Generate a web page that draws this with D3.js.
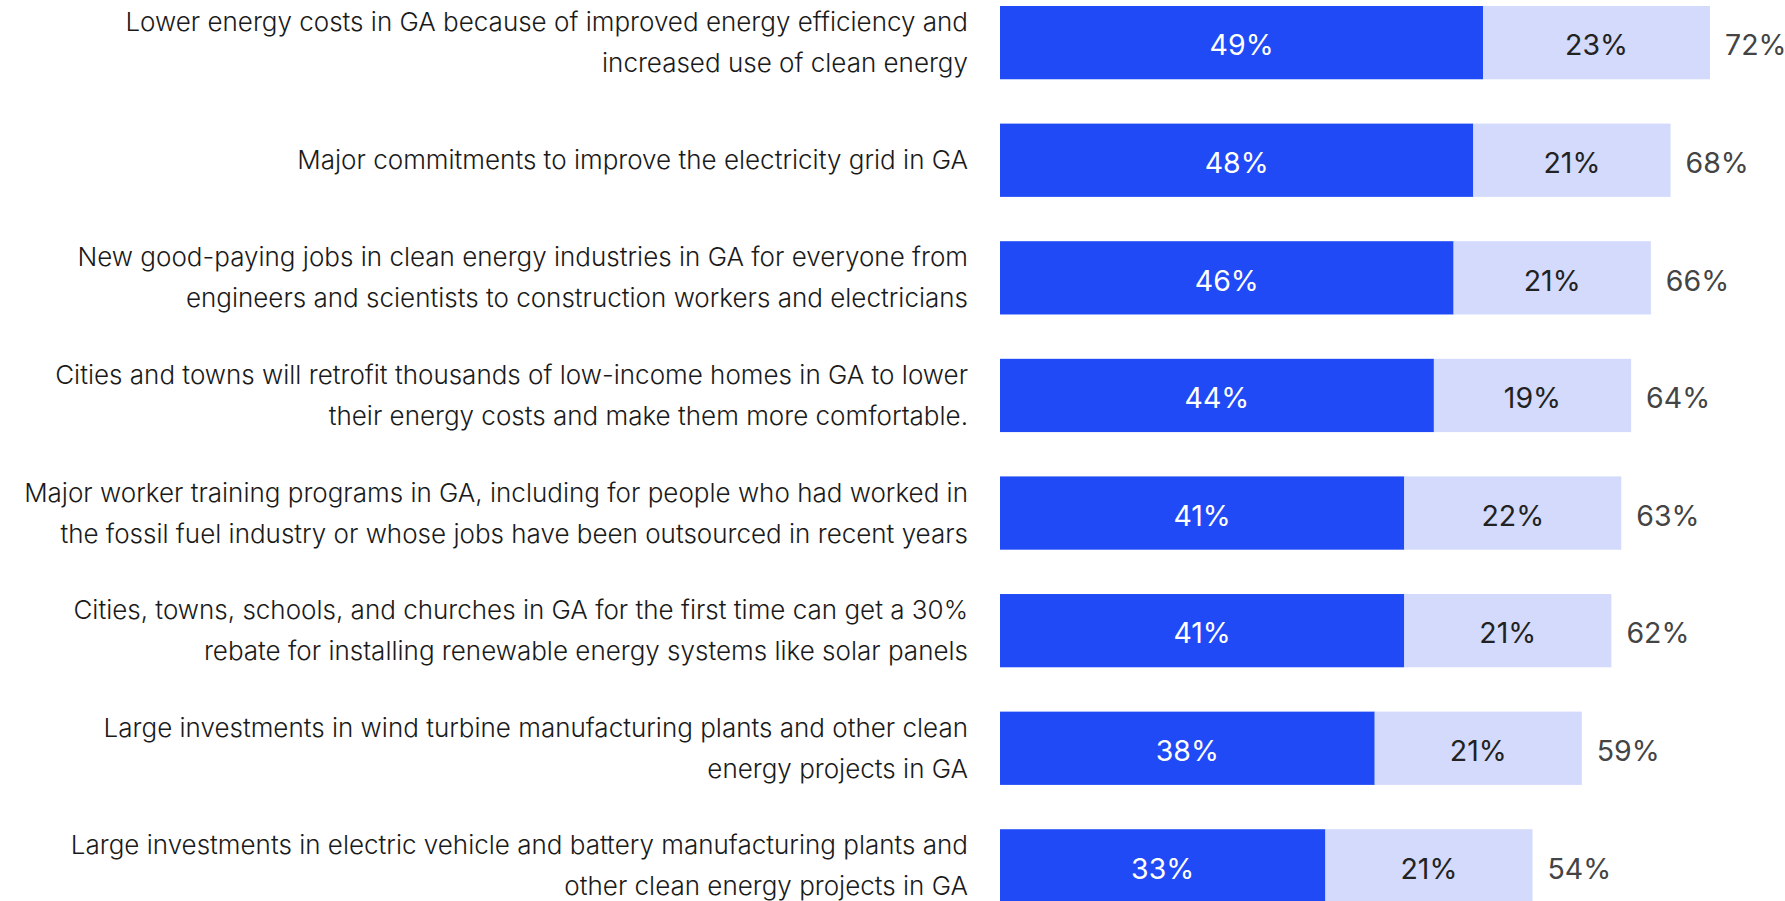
<!DOCTYPE html>
<html>
<head>
<meta charset="utf-8">
<script src="https://cdn.jsdelivr.net/npm/d3@7"></script>
<style>
  html, body { margin: 0; padding: 0; background: #fff; }
  svg { display: block; }
</style>
</head>
<body>
<svg id="chart"></svg>
<script>
const categories = [
  ["Lower energy costs in GA because of improved energy efficiency and", "increased use of clean energy"],
  ["Major commitments to improve the electricity grid in GA"],
  ["New good-paying jobs in clean energy industries in GA for everyone from", "engineers and scientists to construction workers and electricians"],
  ["Cities and towns will retrofit thousands of low-income homes in GA to lower", "their energy costs and make them more comfortable."],
  ["Major worker training programs in GA, including for people who had worked in", "the fossil fuel industry or whose jobs have been outsourced in recent years"],
  ["Cities, towns, schools, and churches in GA for the first time can get a 30%", "rebate for installing renewable energy systems like solar panels"],
  ["Large investments in wind turbine manufacturing plants and other clean", "energy projects in GA"],
  ["Large investments in electric vehicle and battery manufacturing plants and", "other clean energy projects in GA"]
]
const strongly = [49, 48, 46, 44, 41, 41, 38, 33]
const somewhat = [23, 21, 21, 19, 22, 21, 21, 21]
const total = [72, 68, 66, 64, 63, 62, 59, 54]

const width = 1785, height = 901
const colorDark = "#1f4af5", colorLight = "#d3dafb"

const svg = d3.select("#chart").attr("width", width).attr("height", height)

const rows = d3.range(categories.length)

const y = d3.scaleBand()
  .domain(rows)
  .range([6, 902.5])
  .paddingInner(0.377)

const x = d3.scaleLinear()
  .domain([0, 72])
  .range([1000, 1710])

const g = svg.append("g")

const row = g.selectAll("g.row")
  .data(rows)
  .join("g")
  .attr("class", "row")

// dark segment
row.append("rect")
  .attr("x", x(0))
  .attr("y", i => y(i))
  .attr("width", i => x(strongly[i]) - x(0))
  .attr("height", y.bandwidth())
  .attr("fill", colorDark)

// light segment, runs to the total
row.append("rect")
  .attr("x", i => x(strongly[i]))
  .attr("y", i => y(i))
  .attr("width", i => x(total[i]) - x(strongly[i]))
  .attr("height", y.bandwidth())
  .attr("fill", colorLight)

const valueFont = "Inter, Roboto, sans-serif"
const valueSize = "28.5px"

row.append("text")
  .attr("x", i => (x(0) + x(strongly[i])) / 2)
  .attr("y", i => y(i) + y.bandwidth() / 2)
  .attr("dy", "0.45em")
  .attr("text-anchor", "middle")
  .attr("fill", "#fff")
  .style("font-family", valueFont)
  .style("font-size", valueSize)
  .text(i => strongly[i] + "%")

row.append("text")
  .attr("x", i => (x(strongly[i]) + x(total[i])) / 2)
  .attr("y", i => y(i) + y.bandwidth() / 2)
  .attr("dy", "0.45em")
  .attr("text-anchor", "middle")
  .attr("fill", "#222")
  .style("font-family", valueFont)
  .style("font-size", valueSize)
  .text(i => somewhat[i] + "%")

row.append("text")
  .attr("x", i => x(total[i]) + 15)
  .attr("y", i => y(i) + y.bandwidth() / 2)
  .attr("dy", "0.45em")
  .attr("fill", "#444")
  .style("font-family", valueFont)
  .style("font-size", valueSize)
  .text(i => total[i] + "%")

// category labels, right aligned against the bars
const lineGap = 41
row.append("text")
  .attr("text-anchor", "end")
  .attr("fill", "#1a1a1a")
  .style("font-family", "Inter, sans-serif")
  .style("font-weight", 300)
  .style("font-size", "26px")
  .each(function(i) {
    const lines = categories[i]
    const cy = y(i) + y.bandwidth() / 2
    const start = cy - (lines.length - 1) * lineGap / 2
    d3.select(this).selectAll("tspan")
      .data(lines)
      .join("tspan")
      .attr("x", 968)
      .attr("y", (d, k) => start + k * lineGap)
      .attr("dy", "0.35em")
      .text(d => d)
  })
</script>
</body>
</html>
